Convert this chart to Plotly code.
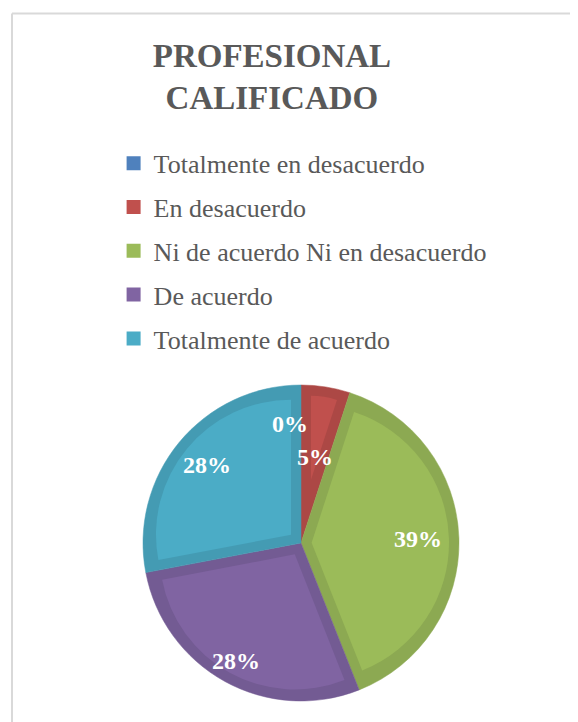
import math
import plotly.graph_objects as go

# Datos del gráfico
categorias = ["Totalmente en desacuerdo", "En desacuerdo",
              "Ni de acuerdo Ni en desacuerdo", "De acuerdo",
              "Totalmente de acuerdo"]
porcentajes = [0, 5, 39, 28, 28]

colores = ["#4F81BD", "#C0504D", "#9BBB59", "#8064A2", "#4BACC6"]
bordes = ["#44709F", "#AC4845", "#8CA952", "#735B93", "#449BB3"]

# where each percentage label sits, as a fraction of the radius (Excel "best fit")
label_r = [0.75, 0.55, 0.74, 0.85, 0.77]
label_dx = [-11, 0, 0, 0, 0]

serif = "Liberation Serif, Times New Roman, serif"

W, H = 570, 714          # page body adds an 8px margin
CX, CY = 293, 179        # pie centre in px (y from bottom)
R, BEVEL = 158, 10       # outer radius and width of the darker rim


def dominio(r):
    return dict(x=[(CX - r) / W, (CX + r) / W], y=[(CY - r) / H, (CY + r) / H])


fig = go.Figure()

# dark base pie
fig.add_trace(go.Pie(
    labels=categorias, values=porcentajes, sort=False,
    direction="clockwise", rotation=0,
    marker=dict(colors=bordes, line=dict(color=bordes, width=0.5)),
    textinfo="none", domain=dominio(R), showlegend=False,
    hoverinfo="label+percent",
))

# lighter inner part of each slice: same slice pulled out so it sits inset
total = sum(porcentajes)
for i, v in enumerate(porcentajes):
    if v <= 0:
        continue
    half = v / total * math.pi
    p = BEVEL / math.sin(half) if half < math.pi / 2 else BEVEL
    pull = p / (R - BEVEL - p)
    fig.add_trace(go.Pie(
        labels=categorias, values=porcentajes, sort=False,
        direction="clockwise", rotation=0,
        marker=dict(colors=[c if j == i else "rgba(0,0,0,0)" for j, c in enumerate(colores)],
                    line=dict(width=0)),
        pull=[pull if j == i else 0 for j in range(len(porcentajes))],
        textinfo="none", domain=dominio(R - BEVEL), showlegend=False,
        hoverinfo="skip",
    ))

# legend entries as square markers
for i, (cat, col) in enumerate(zip(categorias, colores)):
    fig.add_trace(go.Scatter(
        x=[None], y=[None], mode="markers", name=cat,
        legendgroup=str(i),
        marker=dict(symbol="square", size=14, color=col),
    ))

# percentage labels, placed at the middle angle of each slice
acum = 0
anots = []
for v, f, dx in zip(porcentajes, label_r, label_dx):
    mid = (acum + v / 2) / total * 2 * math.pi
    acum += v
    px = CX + math.sin(mid) * f * R
    py = CY + math.cos(mid) * f * R
    anots.append(dict(
        x=px / W, y=py / H, xref="paper", yref="paper",
        xanchor="center", yanchor="middle",
        text=f"{v}%", showarrow=False, xshift=dx,
        font=dict(family=serif, size=24, color="white", weight="bold"),
    ))

fig.update_layout(
    width=W, height=H,
    margin=dict(l=0, r=0, t=0, b=0),
    paper_bgcolor="white",
    plot_bgcolor="white",
    xaxis=dict(visible=False),
    yaxis=dict(visible=False),
    title=dict(
        text="PROFESIONAL<br>CALIFICADO",
        font=dict(family=serif, size=33, color="#595959", weight="bold"),
        x=0.463, xanchor="center",
        y=0.918, yanchor="top",
    ),
    legend=dict(
        x=105.6 / W, xanchor="left",
        y=0.8154, yanchor="top",
        font=dict(family=serif, size=26, color="#595959"),
        tracegroupgap=7,
        bgcolor="rgba(0,0,0,0)",
    ),
    annotations=anots,
    shapes=[
        dict(type="line", xref="paper", yref="paper",
             x0=4 / W, x1=1, y0=1 - 5.5 / H, y1=1 - 5.5 / H,
             line=dict(color="#D9D9D9", width=2)),
        dict(type="line", xref="paper", yref="paper",
             x0=4 / W, x1=4 / W, y0=0, y1=1 - 5.5 / H,
             line=dict(color="#D9D9D9", width=2)),
    ],
)

fig.write_html("out.html")
